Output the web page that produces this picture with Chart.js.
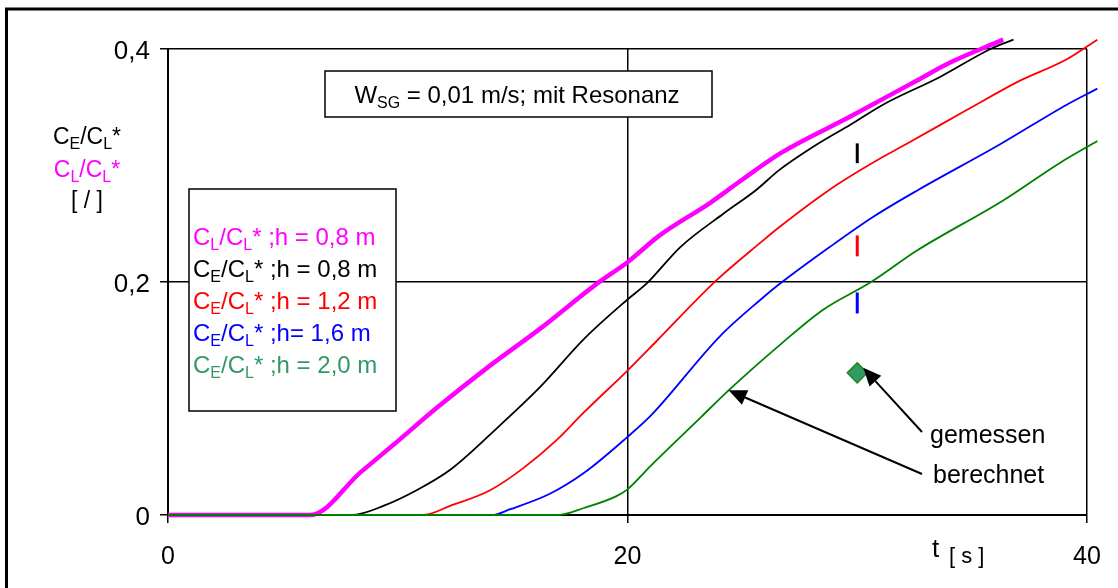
<!DOCTYPE html>
<html>
<head>
<meta charset="utf-8">
<script src="https://cdn.jsdelivr.net/npm/chart.js@4.4.0/dist/chart.umd.min.js"></script>
<style>
  html, body { margin: 0; padding: 0; background: #fff; }
  #wrap { position: relative; width: 1118px; height: 588px; }
</style>
</head>
<body>
<div id="wrap"><canvas id="konz" width="1118" height="588"></canvas></div>
<script>
// Zeit [s] und C/C* je Kurve
const tMag   = [0, 6.2, 8.4, 9.8, 11.7, 14.0, 16.2, 18.7, 20.0, 21.4, 23.6, 25.0, 26.7, 29.7, 32.6, 34.0, 36.35];
const yMag   = [0, 0, 0.037, 0.060, 0.092, 0.128, 0.160, 0.199, 0.217, 0.240, 0.268, 0.288, 0.311, 0.342, 0.373, 0.388, 0.408];

const tBlack = [0, 8.0, 9.4, 10.8, 12.3, 14.45, 16.2, 18.1, 20.0, 20.85, 22.3, 24.2, 25.6, 26.6, 28.4, 29.7, 31.1, 33.6, 35.8, 36.8];
const yBlack = [0, 0, 0.008, 0.021, 0.039, 0.077, 0.110, 0.151, 0.185, 0.199, 0.230, 0.259, 0.279, 0.296, 0.320, 0.335, 0.352, 0.376, 0.400, 0.408];

const tRed   = [0, 11.1, 12.3, 14.0, 15.45, 16.9, 18.1, 20.0, 21.3, 23.9, 25.8, 26.6, 29.0, 30.9, 32.1, 34.8, 37.0, 39.1, 40.45];
const yRed   = [0, 0, 0.008, 0.021, 0.040, 0.064, 0.088, 0.124, 0.150, 0.202, 0.234, 0.247, 0.282, 0.305, 0.318, 0.348, 0.372, 0.391, 0.408];

const tBlue  = [0, 14.1, 14.9, 16.6, 18.1, 20.0, 21.0, 24.0, 25.8, 26.6, 28.8, 30.7, 32.65, 36.2, 39.1, 40.45];
const yBlue  = [0, 0, 0.005, 0.018, 0.036, 0.067, 0.085, 0.153, 0.185, 0.198, 0.230, 0.256, 0.279, 0.318, 0.352, 0.366];

const tGreen = [0, 17.0, 18.1, 19.5, 20.0, 21.0, 23.2, 24.4, 26.75, 28.5, 30.6, 32.6, 36.35, 38.8, 40.45];
const yGreen = [0, 0, 0.006, 0.016, 0.022, 0.042, 0.084, 0.107, 0.148, 0.176, 0.200, 0.227, 0.270, 0.302, 0.321];

// Messwerte bei t = 30 s
const markT = 30;
const markBlack = [0.302, 0.319];
const markRed   = [0.222, 0.240];
const markBlue  = [0.173, 0.191];
const measT = 30;
const measY = 0.122;

const xTicks = [0, 20, 40];
const yTicks = [0, 0.2, 0.4];

// Legendentexte: [Text, tiefgestellt?]
const legendRows = [
  { color: '#ff00ff', parts: [['C'], ['L', 1], ['/C'], ['L', 1], ['* ;h = 0,8 m']] },
  { color: '#000000', parts: [['C'], ['E', 1], ['/C'], ['L', 1], ['* ;h = 0,8 m']] },
  { color: '#ff0000', parts: [['C'], ['E', 1], ['/C'], ['L', 1], ['* ;h = 1,2 m']] },
  { color: '#0000ff', parts: [['C'], ['E', 1], ['/C'], ['L', 1], ['* ;h= 1,6 m']] },
  { color: '#339966', parts: [['C'], ['E', 1], ['/C'], ['L', 1], ['* ;h = 2,0 m']] }
];
const boxTitle = [['W'], ['SG', 1], [' = 0,01 m/s; mit Resonanz']];

function pts(ts, ys) {
  return ts.map((t, i) => ({ x: t, y: ys[i] }));
}

const FONT = '"Liberation Sans", Arial, sans-serif';

// Text mit Indizes: Breite messen bzw. zeichnen
function richWidth(ctx, parts, size) {
  let w = 0;
  parts.forEach(p => {
    ctx.font = (p[1] ? Math.round(size * 0.68) : size) + 'px ' + FONT;
    w += ctx.measureText(p[0]).width;
  });
  return w;
}
function drawRich(ctx, parts, x, y, size, color) {
  ctx.fillStyle = color;
  ctx.textBaseline = 'alphabetic';
  ctx.textAlign = 'left';
  parts.forEach(p => {
    const s = p[1] ? Math.round(size * 0.68) : size;
    ctx.font = s + 'px ' + FONT;
    ctx.fillText(p[0], x, p[1] ? y + size * 0.2 : y);
    x += ctx.measureText(p[0]).width;
  });
}

function arrow(ctx, x0, y0, x1, y1) {
  const a = Math.atan2(y1 - y0, x1 - x0);
  const len = 18, half = 8;
  const bx = x1 - len * Math.cos(a), by = y1 - len * Math.sin(a);
  ctx.strokeStyle = '#000';
  ctx.lineWidth = 2;
  ctx.beginPath();
  ctx.moveTo(x0, y0);
  ctx.lineTo(bx, by);
  ctx.stroke();
  ctx.fillStyle = '#000';
  ctx.beginPath();
  ctx.moveTo(x1, y1);
  ctx.lineTo(bx + half * Math.sin(a), by - half * Math.cos(a));
  ctx.lineTo(bx - half * Math.sin(a), by + half * Math.cos(a));
  ctx.closePath();
  ctx.fill();
}

const decor = {
  id: 'decor',
  beforeDraw(chart) {
    const ctx = chart.ctx;
    ctx.save();
    ctx.fillStyle = '#fff';
    ctx.fillRect(0, 0, chart.width, chart.height);
    // Rahmen um das ganze Diagramm
    ctx.strokeStyle = '#000';
    ctx.lineWidth = 3;
    ctx.strokeRect(6.5, 9, chart.width + 20, chart.height + 20);
    ctx.restore();
  },
  afterDraw(chart) {
    const ctx = chart.ctx;
    const xs = chart.scales.x, ys = chart.scales.y;
    ctx.save();

    // Achsentitel links
    const yRows = [
      { parts: [['C'], ['E', 1], ['/C'], ['L', 1], ['*']], color: '#000', y: 144 },
      { parts: [['C'], ['L', 1], ['/C'], ['L', 1], ['*']], color: '#ff00ff', y: 177 },
      { parts: [['[ / ]']], color: '#000', y: 208 }
    ];
    yRows.forEach(r => {
      const w = richWidth(ctx, r.parts, 23);
      drawRich(ctx, r.parts, 87 - w / 2, r.y, 23, r.color);
    });

    // t [ s ]
    drawRich(ctx, [['t']], 932, 557, 26, '#000');
    drawRich(ctx, [['[ s ]']], 949, 563, 22, '#000');

    // Titelkasten
    ctx.fillStyle = '#fff';
    ctx.fillRect(325, 71, 387, 46);
    ctx.strokeStyle = '#000';
    ctx.lineWidth = 1.5;
    ctx.strokeRect(325, 71, 387, 46);
    const tw = richWidth(ctx, boxTitle, 24);
    drawRich(ctx, boxTitle, 517 - tw / 2, 103, 24, '#000');

    // Legendenkasten
    ctx.fillStyle = '#fff';
    ctx.fillRect(189, 189, 207, 222);
    ctx.strokeRect(189, 189, 207, 222);
    legendRows.forEach((r, i) => {
      drawRich(ctx, r.parts, 193, 245 + i * 32, 24, r.color);
    });

    // gemessen / berechnet
    ctx.font = '25px ' + FONT;
    ctx.fillStyle = '#000';
    ctx.textBaseline = 'middle';
    ctx.textAlign = 'left';
    ctx.fillText('gemessen', 930, 436);
    ctx.fillText('berechnet', 933, 476);
    arrow(ctx, 922, 432, xs.getPixelForValue(measT) + 6, ys.getPixelForValue(measY) - 5);
    arrow(ctx, 922, 474, xs.getPixelForValue(24.4), ys.getPixelForValue(0.107));

    ctx.restore();
  }
};

function line(label, color, width, data, order) {
  return {
    label: label, data: data, borderColor: color, borderWidth: width,
    pointRadius: 0, cubicInterpolationMode: 'monotone', clip: false, order: order
  };
}

new Chart(document.getElementById('konz'), {
  type: 'line',
  data: {
    datasets: [
      line('CL/CL* h=0,8', '#ff00ff', 4.5, pts(tMag, yMag), 9),
      line('CE/CL* h=0,8', '#000000', 1.8, pts(tBlack, yBlack), 8),
      line('CE/CL* h=1,2', '#ff0000', 1.8, pts(tRed, yRed), 7),
      line('CE/CL* h=1,6', '#0000ff', 1.8, pts(tBlue, yBlue), 6),
      line('CE/CL* h=2,0', '#008000', 1.8, pts(tGreen, yGreen), 5),
      line('mess schwarz', '#000000', 3, [{ x: markT, y: markBlack[0] }, { x: markT, y: markBlack[1] }], 4),
      line('mess rot', '#ff0000', 3, [{ x: markT, y: markRed[0] }, { x: markT, y: markRed[1] }], 3),
      line('mess blau', '#0000ff', 3, [{ x: markT, y: markBlue[0] }, { x: markT, y: markBlue[1] }], 2),
      {
        label: 'gemessen', type: 'scatter', data: [{ x: measT, y: measY }],
        pointStyle: 'rectRot', pointRadius: 10, backgroundColor: '#339966',
        borderColor: '#1e8a1e', borderWidth: 1.5, order: 1
      }
    ]
  },
  options: {
    responsive: false,
    animation: false,
    events: [],
    layout: { padding: { left: 0, top: 49, right: 31, bottom: 0 } },
    plugins: { legend: { display: false }, tooltip: { enabled: false } },
    scales: {
      x: {
        type: 'linear', min: 0, max: 40,
        afterBuildTicks: s => { s.ticks = xTicks.map(v => ({ value: v })); },
        afterFit: s => { s.height = 73; s.paddingLeft = 0; s.paddingRight = 0; },
        grid: { color: '#000', lineWidth: 1.5, tickLength: 8, drawTicks: true },
        border: { color: '#000', width: 2 },
        ticks: {
          color: '#000', padding: 19, maxRotation: 0,
          font: { family: FONT, size: 25 },
          callback: v => String(v)
        }
      },
      y: {
        type: 'linear', min: 0, max: 0.4,
        afterBuildTicks: s => { s.ticks = yTicks.map(v => ({ value: v })); },
        afterFit: s => { s.width = 168; s.paddingTop = 0; s.paddingBottom = 0; },
        grid: { color: '#000', lineWidth: 1.5, tickLength: 8, drawTicks: true },
        border: { color: '#000', width: 2 },
        ticks: {
          color: '#000', padding: 10, labelOffset: 3,
          font: { family: FONT, size: 26 },
          callback: v => v === 0 ? '0' : String(v).replace('.', ',')
        }
      }
    }
  },
  plugins: [decor]
});
</script>
</body>
</html>
